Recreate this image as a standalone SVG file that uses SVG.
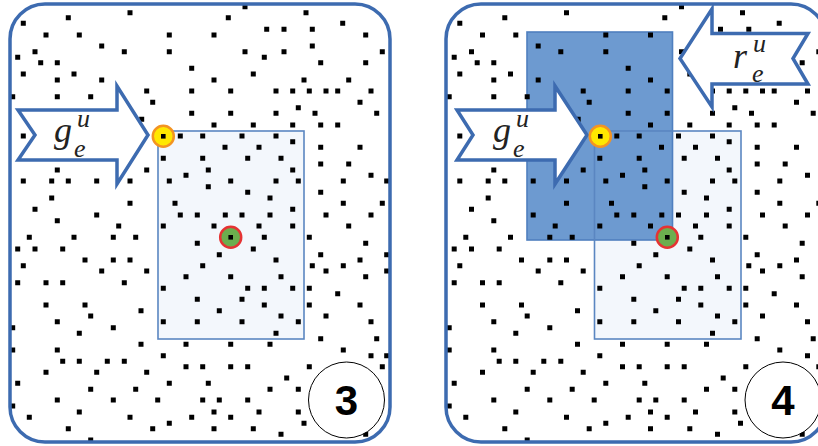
<svg xmlns="http://www.w3.org/2000/svg" xmlns:xlink="http://www.w3.org/1999/xlink" width="818" height="446" viewBox="0 0 818 446">
<style>
.frame{fill:none;stroke:#3d6bb0;stroke-width:3.5}
.bg{fill:#ffffff}
.arrow{fill:#ffffff;stroke:#3d6bb0;stroke-width:3.5;stroke-linejoin:miter}
.light{fill:#f3f7fc}
.lightline{fill:none;stroke:#5a86c1;stroke-width:1.6}
.dark{fill:#6d9ad0;stroke:#4f7fbf;stroke-width:1.6}
.dots{fill:none;stroke:#000000;stroke-width:5;stroke-linecap:square}
.yel{fill:#ffe800;stroke:#f39422;stroke-width:2.5}
.grn{fill:#6cae4e;stroke:#e53333;stroke-width:2.5}
.cdot{fill:#000000}
.num{fill:#ffffff;stroke:#000000;stroke-width:1}
.numt{font-family:"Liberation Sans",Arial,sans-serif;font-weight:bold;font-size:42px;fill:#000000;text-anchor:middle}
.lab{font-family:"Liberation Serif","Times New Roman",serif;font-style:italic;fill:#222222}
.big{font-size:36px}
.sm{font-size:26px}
</style>
<defs>
<path id="dots" class="dots" d="M130 12.7h0M306 12.7h0M245 6.7h0M68.3 17.7h0M228.3 17.7h0M23.3 23.3h0M342.7 23.3h0M266.7 29.3h0M284 29.3h0M312.3 29.3h0M46 35h0M79.3 35h0M169.3 35h0M214 35h0M365.7 35h0M101.7 46h0M312.3 46h0M35 51.7h0M124.3 51.7h0M169.3 51.7h0M245 51.7h0M284 51.7h0M382.3 51.7h0M17.7 57.3h0M264.3 57.3h0M40.7 62.7h0M57.3 62.7h0M320.7 62.7h0M365.7 62.7h0M191.7 68.3h0M23.3 74h0M74 74h0M253.3 74h0M57.3 80h0M101.7 80h0M214 80h0M304 80h0M348.7 80h0M146.7 91h0M191.7 91h0M230.7 91h0M276 91h0M292.7 91h0M309.3 91h0M326 91h0M337.7 91h0M371 91h0M12.7 96.7h0M57.3 96.7h0M90.7 96.7h0M152.7 102.3h0M360 102.3h0M298.3 107.7h0M191.7 113.3h0M230.7 113.3h0M276 113.3h0M315 113.3h0M376.7 113.3h0M141.7 119.3h0M214 125h0M253.3 125h0M292.7 125h0M320.7 125h0M337.7 125h0M23.3 136h0M180.3 136h0M202.7 136h0M242 136h0M276 136h0M292.7 141.7h0M225 147.3h0M259 147.3h0M320.7 147.3h0M360 147.3h0M163.3 158.3h0M202.7 158.3h0M247.7 158.3h0M281 158.3h0M320.7 164h0M348.7 164h0M57.3 170h0M146.7 170h0M208.3 170h0M292.7 170h0M186 175.3h0M371 175.3h0M23.3 181h0M51.7 181h0M68.3 181h0M96.7 181h0M130 181h0M169.3 181h0M230.7 181h0M276 181h0M298.3 181h0M343.3 181h0M386.7 181h0M208.3 186.7h0M247.7 192.3h0M320.7 192.3h0M51.7 198h0M270 198h0M130 203.3h0M175 203.3h0M343.3 203.3h0M382.3 203.3h0M35 209.3h0M292.7 209.3h0M96.7 215h0M180.3 215h0M197.3 215h0M225.3 215h0M242 215h0M270 215h0M326 215h0M371 215h0M57.3 220.7h0M118.7 226h0M163.3 226h0M214 226h0M259 226h0M292.7 226h0M348.7 226h0M29.3 237.3h0M74 237.3h0M113.3 237.3h0M135.7 237.3h0M264.3 237.3h0M309.3 237.3h0M197.3 243.3h0M365.7 243.3h0M17.7 249h0M35 249h0M62.7 249h0M253.3 249h0M219.3 254.7h0M320.7 254.7h0M386.7 254.7h0M85 260h0M113.3 260h0M130 260h0M276 260h0M360 260h0M23.3 265.7h0M202.7 265.7h0M312.3 265.7h0M343.3 265.7h0M101.7 271h0M146.7 271h0M326 271h0M386.7 271h0M186 276.7h0M230.7 276.7h0M281 276.7h0M365.7 276.7h0M17.7 282.7h0M46 282.7h0M62.7 282.7h0M124.3 282.7h0M163.3 288.3h0M247.7 288.3h0M264.3 288.3h0M292.7 288.3h0M309.3 288.3h0M337.7 293.7h0M197.3 299.3h0M242 299.3h0M46 305h0M85 305h0M264.3 305h0M309.3 305h0M360 305h0M141 310.7h0M219.3 310.7h0M90.7 316h0M281 316h0M326 316h0M57.3 321.7h0M163.3 321.7h0M197.3 321.7h0M242 321.7h0M298.3 321.7h0M371 321.7h0M113.3 327.7h0M12.7 327.7h0M79.3 333.3h0M276 333.3h0M320.7 338.7h0M376.7 338.7h0M141 344.3h0M186 344.3h0M230.7 344.3h0M270 344.3h0M12.7 350h0M57.3 350h0M343.3 350h0M163.3 355.7h0M371 355.7h0M386.7 355.7h0M62.7 361.3h0M79.3 361.3h0M107.3 361.3h0M124.3 361.3h0M186 366.7h0M202.7 366.7h0M230.7 366.7h0M247.7 366.7h0M309.3 366.7h0M382.3 366.7h0M46 372.3h0M96.7 372.3h0M146.7 372.3h0M286.7 378h0M17.7 383.3h0M169.3 383.3h0M208.3 383.3h0M90.7 389.3h0M135.7 389.3h0M270 389.3h0M298.3 389.3h0M57.3 400h0M113.3 400h0M157.7 400h0M202.7 400h0M219.3 400h0M247.7 400h0M12.7 406h0M79.3 412h0M214 412h0M259 412h0M298.3 412h0M29.3 417.3h0M130 417.3h0M191.7 417.3h0M230.7 417.3h0M169.3 423.3h0M304 423.3h0M68.3 428.7h0M152.7 428.7h0M214 428.7h0M253.3 428.7h0M281 434.3h0M365.7 434.3h0M90.7 440h0"/>
</defs>

<g id="panel3">
  <rect class="bg" x="10" y="4" width="380" height="438" rx="35"/>
  <g id="region3">
    <rect class="light" x="158" y="131" width="146" height="208"/>
    <rect class="lightline" x="158" y="131" width="146" height="208"/>
  </g>
  <use href="#dots" xlink:href="#dots"/>
  <g id="arrow-g3">
    <polygon class="arrow" points="18,110 117,110 117,86 148,135 117,184 117,160 18,160 35,135"/>
    <text class="lab big" x="54" y="142">g</text>
    <text class="lab sm" x="77" y="127">u</text>
    <text class="lab sm" x="74" y="157">e</text>
  </g>
  <g id="point-yellow3">
    <circle class="yel" cx="163.3" cy="136.3" r="10.5"/>
    <rect class="cdot" x="161" y="134" width="4.6" height="4.6"/>
  </g>
  <g id="point-green3">
    <circle class="grn" cx="230.7" cy="237.3" r="10.5"/>
    <rect class="cdot" x="228.4" y="235" width="4.6" height="4.6"/>
  </g>
  <g id="badge3">
    <circle class="num" cx="346.5" cy="400" r="38"/>
    <text class="numt" x="346.5" y="415">3</text>
  </g>
  <rect class="frame" x="10" y="4" width="380" height="438" rx="35"/>
</g>

<g id="panel4">
  <rect class="bg" x="446" y="4" width="380" height="438" rx="35"/>
  <g id="region4">
    <rect class="light" x="594.5" y="131" width="146.5" height="208"/>
    <rect class="dark" x="527" y="32" width="145.5" height="208"/>
    <rect class="lightline" x="594.5" y="131" width="146.5" height="208"/>
  </g>
  <use href="#dots" xlink:href="#dots" transform="translate(436.5,0)"/>
  <g id="arrow-g4">
    <polygon class="arrow" points="457,110 555,110 555,86 587,135 555,184 555,160 457,160 473,135"/>
    <text class="lab big" x="493" y="142">g</text>
    <text class="lab sm" x="516" y="127">u</text>
    <text class="lab sm" x="513" y="157">e</text>
  </g>
  <g id="arrow-r4">
    <polygon class="arrow" points="808,33.5 712,33.5 712,9 680,58.5 712,107 712,84 808,84 793,58.5"/>
    <text class="lab big" x="733" y="68">r</text>
    <text class="lab sm" x="753" y="52">u</text>
    <text class="lab sm" x="752" y="82">e</text>
  </g>
  <g id="point-yellow4">
    <circle class="yel" cx="600.3" cy="136.3" r="10.5"/>
    <rect class="cdot" x="598" y="134" width="4.6" height="4.6"/>
  </g>
  <g id="point-green4">
    <circle class="grn" cx="667.3" cy="237.3" r="10.5"/>
    <rect class="cdot" x="665" y="235" width="4.6" height="4.6"/>
  </g>
  <g id="badge4">
    <circle class="num" cx="783" cy="400" r="38"/>
    <text class="numt" x="783" y="415">4</text>
  </g>
  <rect class="frame" x="446" y="4" width="380" height="438" rx="35"/>
</g>
</svg>
